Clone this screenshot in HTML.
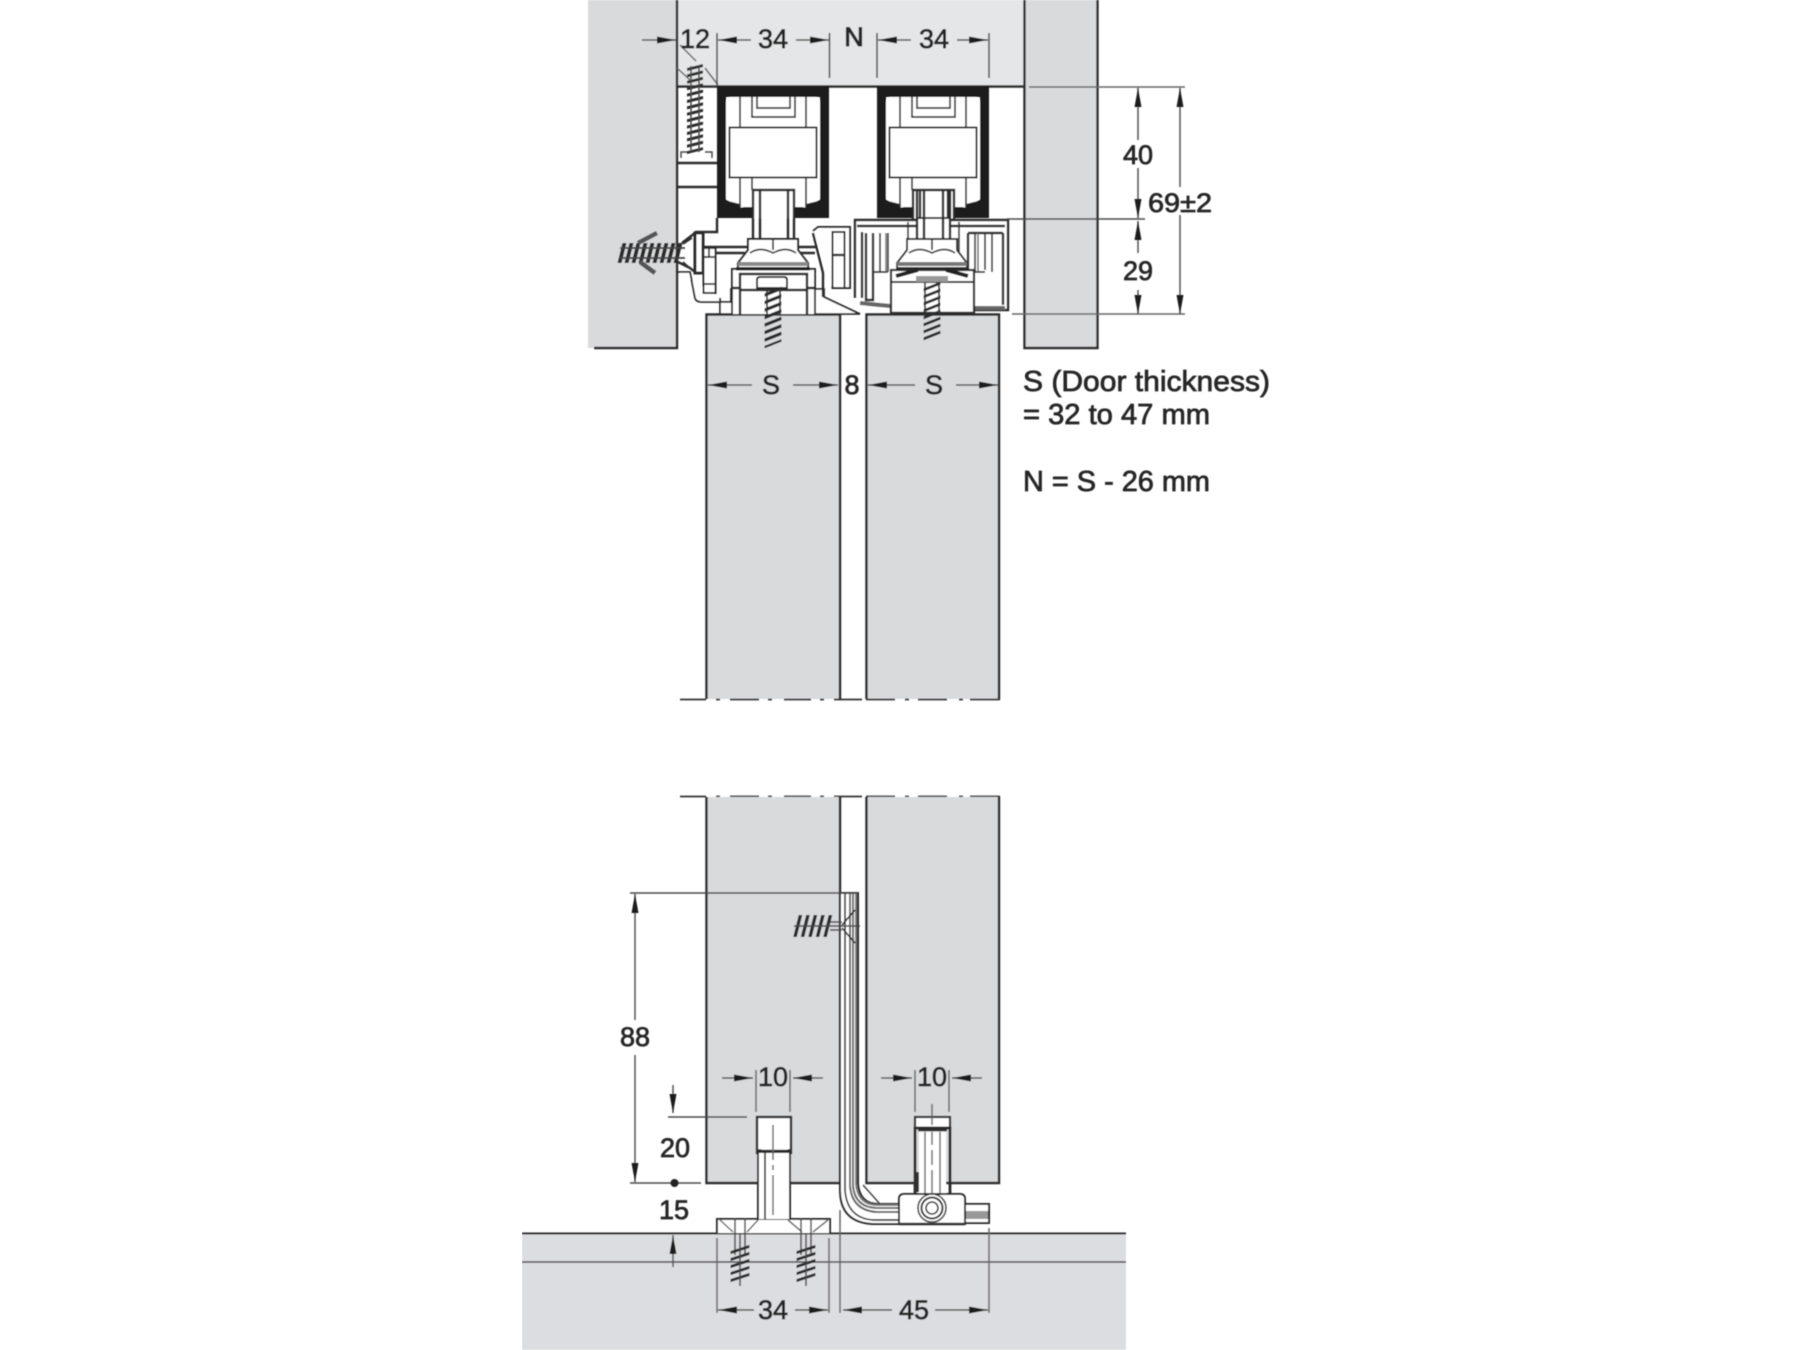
<!DOCTYPE html>
<html><head><meta charset="utf-8"><style>
html,body{margin:0;padding:0;background:#fff}
svg{display:block}
text{font-family:"Liberation Sans",sans-serif;font-size:27px;fill:#262626;stroke:#262626;stroke-width:.75px;text-anchor:middle;dominant-baseline:central}
.b{fill:#d9dadc}
.k{fill:none;stroke:#2c2c2c;stroke-width:2.4}
.m{fill:none;stroke:#333;stroke-width:1.7}
.w{fill:#fff;stroke:#2c2c2c;stroke-width:2}
.d{fill:none;stroke:#4a4a4a;stroke-width:1.5}
.g{fill:none;stroke:#666;stroke-width:1.5}
.ar{fill:none;stroke:#555;stroke-width:1.5;marker-end:url(#a)}
.th{fill:none;stroke:#2a2a2a;stroke-dasharray:3 3.400}
</style></head><body>
<svg xmlns="http://www.w3.org/2000/svg" width="1800" height="1350" viewBox="0 0 1800 1350">
<defs>
<marker id="a" markerUnits="userSpaceOnUse" markerWidth="20" markerHeight="9" refX="19" refY="4.5" orient="auto-start-reverse"><path d="M0,1L19,4.500L0,8Z" fill="#1e1e1e"/></marker>
<filter id="s" x="0" y="0" width="100%" height="100%"><feGaussianBlur stdDeviation="0.55"/></filter>
<g id="tr">
<path fill="#1d1d1d" d="M717,86H829V218H795V205L806,208V200H820V97H726V200H740V208L752,205V218H717Z"/>
<path fill="#fff" d="M732,97H814Q820,97 820,103V197Q820,201 814,202L806,204V207H795V218H752V207H740V204L732,202Q726,201 726,197V103Q726,97 732,97Z"/>
<path class="m" d="M740,97V127M806,97V127M740,177V208M806,177V208M752,97V117H795V97M757,97V108H790V97M752,177V190"/>
<rect x="729.500" y="127.500" width="87" height="50" fill="#fff" stroke="#2c2c2c" stroke-width="2"/>
<path class="k" d="M753,238V190H794V238M760,190V238M788,190V238"/>
</g>
</defs>
<rect width="1800" height="1350" fill="#fff"/>
<g filter="url(#s)">
<!-- ceiling and walls -->
<rect x="677" y="0" width="347" height="86" fill="#e5e6e7"/>
<rect x="588" y="0" width="89" height="348" class="b"/>
<rect x="1024" y="0" width="74" height="348" class="b"/>
<path class="k" d="M677,0V348H594"/>
<path d="M677,86.500H1024" stroke="#2c2c2c" stroke-width="2.4"/>
<path class="k" d="M1024.500,0V348H1097.500V0"/>
<!-- doors upper -->
<rect x="706" y="314" width="134" height="385" class="b"/>
<rect x="866" y="314" width="133" height="385" class="b"/>
<path class="k" d="M706.500,699V314.500H840V699M866.500,699V314.500H999V699"/>
<!-- break lines -->
<g stroke="#333" stroke-width="1.8" fill="none">
<path d="M680,699.500H706M716,699.500H720M730,699.500H759M768,699.500H772M784,699.500H811M820,699.500H824M834,699.500H862M866,699.500H895M905,699.500H909M918,699.500H947M959,699.500H963M970,699.500H1000"/>
<path d="M680,796.500H706M716,796.500H720M730,796.500H759M768,796.500H772M784,796.500H811M820,796.500H824M834,796.500H862M866,796.500H895M905,796.500H909M918,796.500H947M959,796.500H963M970,796.500H1000"/>
</g>
<!-- doors lower -->
<rect x="706" y="797" width="134" height="386" class="b"/>
<rect x="866" y="797" width="133" height="386" class="b"/>
<path class="k" d="M706.500,797V1183H840V797M866.500,797V1183H999V797"/>
<!-- upper left fittings -->
<path class="k" d="M677,163H717M677,187H717M717,218V232H695"/>
<path class="d" d="M681,158V152H687M705,152H712V158"/>
<path d="M695,66V152" stroke-width="16" class="th" transform="translate(695 110) skewY(-14) translate(-695 -110)"/>
<path class="d" d="M691,66V152M699,66V152"/>
<path class="g" d="M680,45L696,61M677,68L690,80M705,68L718,85"/>
<path class="w" d="M678,272H690L695,298Q696,302 702,302H731V289H824V297L860,314H720V298" style="stroke-width:1.8"/>
<rect x="695" y="233" width="8" height="40" fill="#fff" stroke="#2c2c2c" stroke-width="3"/>
<path class="k" d="M678,262L690,268L695,272M682,243L695,233"/>
<path class="k" d="M703,247H750M703,253H745M798,247H817M800,253H815"/>
<rect x="703.500" y="248" width="12" height="45" fill="#fff" stroke="#2c2c2c" stroke-width="2"/>
<path class="m" d="M704,257H715M704,284H715M709,248V257"/>
<path d="M620,253H683" stroke-width="20" class="th" style="stroke-dasharray:4 3" transform="translate(652 253) skewX(-14) translate(-652 -253)"/>
<path d="M620,248H685M620,258H685" stroke="#444" stroke-width="1.8"/>
<path d="M657,233L638,243M655,273L640,262" stroke="#555" stroke-width="4.500"/>
<path class="m" d="M683,244L692,238M683,262L692,270"/>
<!-- tracks -->
<use href="#tr"/>
<use href="#tr" x="160"/>
<!-- left runner -->
<path class="w" d="M732,314V269H815V314"/>
<path class="k" d="M740,314V274H807V314M732,288H740M807,288H815M740,290H807"/>
<path class="w" d="M748,250V239H798V250L808,263V268H738V263Z"/>
<path d="M738,264H808" stroke="#888" stroke-width="4"/>
<path d="M736,269H810" stroke="#222" stroke-width="3"/>
<path class="m" d="M773,239V250M750,253Q760,246 773,253Q786,246 796,253"/>
<path class="w" d="M757,288V280Q757,277 760,277H784Q787,277 787,280V288Z"/>
<!-- bracket between -->
<path class="w" d="M813,231L818,227H850V288H832"/>
<path class="k" d="M813,233L823,273V297"/>
<rect x="832.500" y="232" width="12" height="56" fill="#fff" stroke="#2c2c2c" stroke-width="2"/>
<path class="k" d="M833,255H844"/>
<!-- right runner housing -->
<path fill="#fff" d="M855,220H1008V310H975V314H891V306H855Z"/>
<path class="k" d="M855,298V220H1008V310H975M862,298V232M857,226H1005"/>
<path d="M860,303L891,306M975,308H1005" stroke="#666" stroke-width="4"/>
<path class="k" d="M866,233V300H873V233M968,233V305M1003,233V305M968,233H1003"/>
<path class="m" d="M873,233V272H888M880,233V272M888,233V272M908,222V270M959,222V270"/>
<path class="m" d="M975,233V272M985,233V270M992,233V272M887,272H873M985,272H968"/>
<path class="g" d="M886,233V272M978,233V272"/>
<path fill="#fff" stroke="#2c2c2c" stroke-width="2" d="M917,218V239H950V218Z"/>
<path class="k" d="M917,190V239M950,190V239M924,190V239M943,190V239"/>
<path class="w" d="M907,250V239H957V250L967,263V268H897V263Z"/>
<path d="M897,264H967" stroke="#777" stroke-width="4"/>
<path class="m" d="M932,239V250M909,253Q919,246 932,253Q945,246 955,253"/>
<rect x="891" y="270" width="83" height="44" fill="#fff" stroke="#2c2c2c" stroke-width="2.2"/>
<path d="M891,282H974" stroke="#2c2c2c" stroke-width="2"/>
<path d="M896,276L918,270M968,276L946,270" stroke="#222" stroke-width="4"/>
<path d="M916,279H948" stroke="#999" stroke-width="6"/>
<path d="M891,313H974" stroke="#2c2c2c" stroke-width="2.4"/>
<!-- screws to doors -->
<path d="M773,290V345" stroke-width="17" class="th" style="stroke-dasharray:3.500 4" transform="translate(773 318) skewY(-22) translate(-773 -318)"/>
<path class="m" d="M767,289V315M780,289V315"/>
<path d="M932,285V338" stroke-width="17" class="th" style="stroke-dasharray:3 4" transform="translate(932 311) skewY(-22) translate(-932 -311)"/>
<path class="m" d="M925,283V314M939,283V314"/>
<!-- floor -->
<rect x="522" y="1233" width="604" height="117" fill="#dcdde0"/>
<path d="M522,1233.500H1126" stroke="#2c2c2c" stroke-width="2"/>
<path d="M522,1262H1126" stroke="#4a4a4a" stroke-width="1.5"/>
<!-- left floor guide -->
<path class="w" d="M717,1233V1219H830V1233"/>
<path class="g" d="M720,1220L733,1232M758,1220L747,1232M788,1220L802,1232M828,1220L813,1232"/>
<path class="d" d="M735,1218V1255M745,1218V1255M801,1218V1255M811,1218V1255"/>
<path d="M740,1248V1280" stroke-width="19" class="th" style="stroke-dasharray:3 4" transform="translate(740 1264) skewY(-18) translate(-740 -1264)"/>
<path d="M806,1248V1280" stroke-width="19" class="th" style="stroke-dasharray:3 4" transform="translate(806 1264) skewY(-18) translate(-806 -1264)"/>
<path class="d" d="M740,1234V1286M806,1234V1286"/>
<rect x="757" y="1117" width="34" height="36" fill="#fff" stroke="#2c2c2c" stroke-width="2.4"/>
<path class="w" d="M758,1219V1152H790V1219"/>
<path d="M757,1153Q758,1149 762,1151H787Q791,1149 790,1153" class="k"/>
<path class="m" d="M765,1153V1219"/>
<path class="g" d="M773,1125V1160M773,1165V1170M773,1175V1215"/>
<!-- L bar -->
<path fill="#fff" stroke="#2c2c2c" stroke-width="2" d="M840,893H858V1184Q860,1204 878,1204H899V1224H872Q840,1222 840,1190Z"/>
<path d="M850,893V1186Q852,1210 876,1212H899M853,893V1186Q855,1207 876,1208H899" class="g" style="stroke-width:2"/>
<path d="M856,893V1184Q858,1204 876,1205H899" stroke="#777" stroke-width="2" fill="none"/>
<path class="m" d="M845,893V1190Q847,1218 873,1220H899"/>
<path class="d" d="M863,1185L880,1204"/>
<!-- bar screw -->
<path d="M796,926H830" stroke-width="22" class="th" style="stroke-dasharray:3.500 4" transform="translate(813 926) skewX(-14) translate(-813 -926)"/>
<path class="d" d="M794,926H860M830,922H842M830,930H842"/>
<path class="k" d="M855,910L842,925M855,943L842,928" style="stroke-width:1.7"/>
<!-- right floor guide -->
<rect x="915" y="1117" width="35" height="11" fill="#fff" stroke="#2c2c2c" stroke-width="2.2"/>
<path class="k" d="M915,1195V1128H950V1195" style="stroke-width:2.8"/>
<path d="M919,1132H946V1195H919Z" fill="#fff"/>
<path class="g" d="M925,1132V1195M940,1132V1195"/>
<path class="k" d="M918,1130H947"/>
<path d="M917,1172V1192" stroke="#333" stroke-width="4"/>
<rect x="965" y="1204" width="24" height="19" fill="#fff" stroke="#2c2c2c" stroke-width="2"/>
<rect x="966" y="1211" width="22" height="8" fill="#999"/>
<path class="w" d="M899,1224V1199Q899,1194 904,1194H960Q965,1194 965,1199V1224Z"/>
<path d="M899,1224H965" stroke="#2c2c2c" stroke-width="2.5"/>
<circle cx="932" cy="1208" r="14" fill="#fff" stroke="#333" stroke-width="1.6"/>
<circle cx="932" cy="1208" r="10.500" fill="#fff" stroke="#333" stroke-width="2"/>
<circle cx="932" cy="1208" r="6" fill="#fff" stroke="#333" stroke-width="1.6"/>
<path class="g" d="M932,1104V1125M932,1132V1145M932,1150V1165M932,1170V1193"/>
<!-- dimensions: top -->
<path class="d" d="M717,33V85M829.500,33V78M877,33V78M989,33V78"/>
<path class="ar" d="M642,40H676"/>
<path class="ar" d="M751,40H718"/>
<path class="ar" d="M796,40H829"/>
<path class="ar" d="M911,40H878"/>
<path class="ar" d="M957,40H988"/>
<text x="695" y="39">12</text>
<text x="773" y="39">34</text>
<text x="854" y="37" style="stroke-width:1.1px">N</text>
<text x="934" y="39">34</text>
<!-- dimensions: right -->
<path class="g" d="M1029,87H1185M1012,314H1185"/>
<path class="d" d="M1007,219H1145"/>
<path class="ar" d="M1138,140V88"/>
<path class="ar" d="M1138,168V218"/>
<path class="ar" d="M1138,253V221"/>
<path class="ar" d="M1138,290V314"/>
<path class="ar" d="M1180,187V88"/>
<path class="ar" d="M1180,215V314"/>
<text x="1138" y="155">40</text>
<text x="1138" y="271">29</text>
<text x="1180" y="203" textLength="64" lengthAdjust="spacingAndGlyphs">69±2</text>
<!-- S dims -->
<path class="ar" d="M752,385H708"/>
<path class="ar" d="M793,385H838"/>
<path class="ar" d="M915,385H868"/>
<path class="ar" d="M956,385H998"/>
<text x="771" y="385">S</text>
<text x="852" y="385">8</text>
<text x="934" y="385">S</text>
<text x="1023" y="382" textLength="247" lengthAdjust="spacingAndGlyphs" style="text-anchor:start;font-size:28.500px">S (Door thickness)</text>
<text x="1023" y="415" textLength="187" lengthAdjust="spacingAndGlyphs" style="text-anchor:start;font-size:28.500px">= 32 to 47 mm</text>
<text x="1023" y="482" textLength="187" lengthAdjust="spacingAndGlyphs" style="text-anchor:start;font-size:28.500px">N = S - 26 mm</text>
<!-- 88 dim -->
<path class="d" d="M630,893H858M630,1183H701"/>
<path class="ar" d="M635,1020V894"/>
<path class="ar" d="M635,1055V1182"/>
<text x="635" y="1037">88</text>
<circle cx="674.500" cy="1183" r="4" fill="#222"/>
<text x="675" y="1148">20</text>
<text x="674" y="1210">15</text>
<path class="ar" d="M673,1085V1113"/>
<path class="d" d="M668,1117H747"/>
<path class="ar" d="M673,1267V1235"/>
<!-- 10 dims -->
<path class="g" d="M756,1070V1112M790,1070V1112M915,1070V1112M949,1070V1112"/>
<path class="ar" d="M722,1078H753"/>
<path class="ar" d="M823,1078H793"/>
<path class="ar" d="M881,1078H912"/>
<path class="ar" d="M982,1078H952"/>
<text x="773" y="1077">10</text>
<text x="932" y="1077">10</text>
<!-- bottom dims -->
<path class="g" d="M717,1238V1313M829,1238V1313M840,1210V1313M989,1228V1313"/>
<path class="ar" d="M754,1310H718"/>
<path class="ar" d="M795,1310H828"/>
<path class="ar" d="M892,1310H843"/>
<path class="ar" d="M935,1310H988"/>
<text x="773" y="1310">34</text>
<text x="914" y="1310">45</text>
</g>
</svg>
</body></html>
